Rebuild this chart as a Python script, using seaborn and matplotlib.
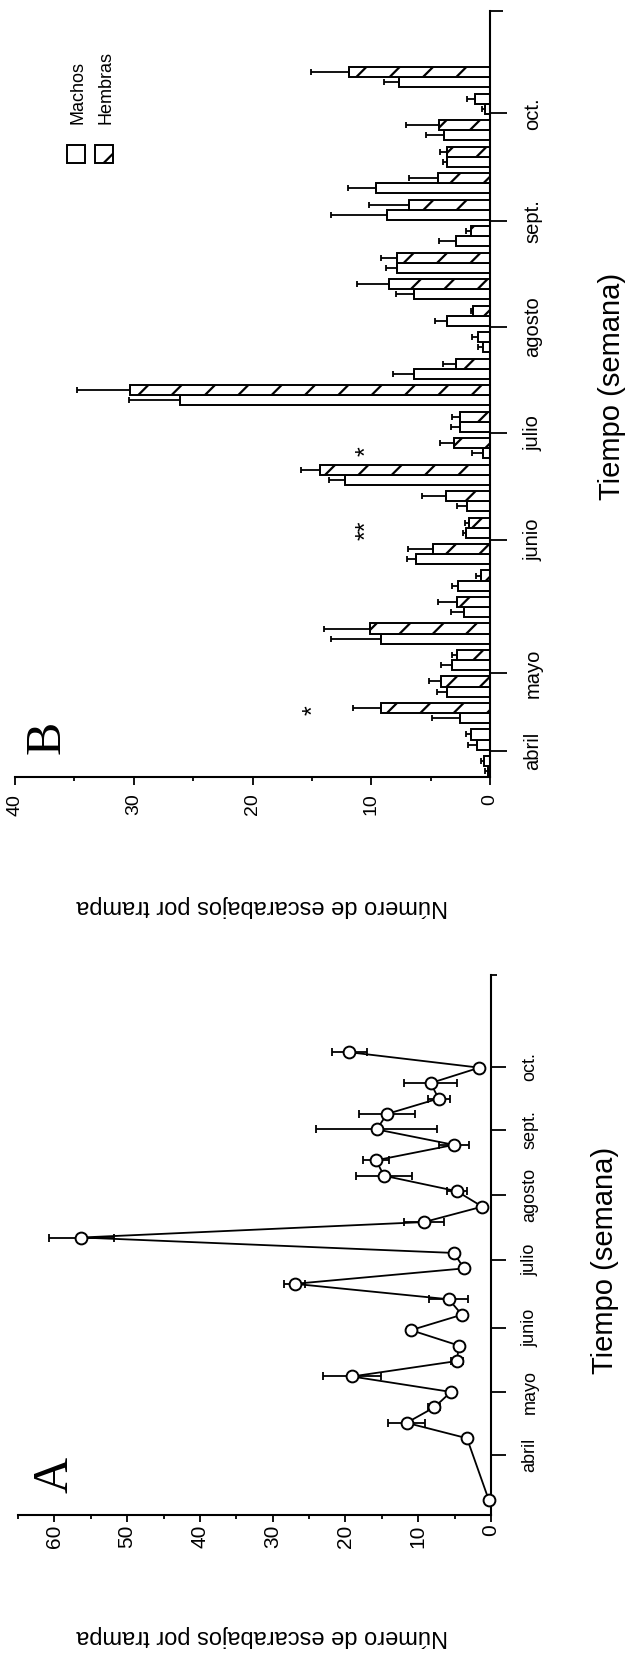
import numpy as np
import pandas as pd
import matplotlib
matplotlib.use("Agg")
import matplotlib.pyplot as plt
from matplotlib.patches import Rectangle
from matplotlib.ticker import FixedLocator
import seaborn as sns

# ---------------- data ----------------
# Panel B: weekly means per trap, males / females (with upper SE)
semanas_B = list(range(27))
machos = [0.2, 1.1, 2.5, 3.6, 3.2, 9.2, 2.2, 2.7, 6.2, 2.0, 1.9, 12.2, 0.6, 2.5,
          26.1, 6.4, 0.6, 3.6, 6.4, 7.8, 2.9, 8.7, 9.6, 3.6, 3.9, 0.4, 7.7]
machos_err = [0.2, 0.75, 2.4, 0.9, 0.9, 4.2, 1.1, 0.5, 0.8, 0.3, 0.85, 1.4, 0.9, 0.8,
              4.3, 1.8, 0.4, 1.0, 1.5, 1.0, 1.4, 4.7, 2.4, 0.4, 1.5, 0.3, 1.2]
hembras = [0.5, 1.6, 9.2, 4.1, 2.8, 10.1, 2.8, 0.8, 4.8, 1.8, 3.7, 14.3, 3.0, 2.5,
           30.3, 2.9, 1.0, 1.4, 8.5, 7.8, 1.6, 6.8, 4.4, 3.6, 4.3, 1.3, 11.9]
hembras_err = [0.3, 0.4, 2.3, 1.0, 0.4, 3.9, 1.6, 0.4, 2.1, 0.3, 2.0, 1.6, 1.2, 0.7,
               4.5, 1.1, 0.5, 0.2, 2.7, 1.4, 0.4, 3.4, 2.4, 0.6, 2.8, 0.6, 3.2]

# Panel A: total beetles per trap (mean +/- SE)
semanas_A = [0, 4, 5, 6, 7, 8, 9, 10, 11, 12, 13, 14, 15, 16, 17, 18, 19, 20,
             21, 22, 23, 24, 25, 26, 27, 28, 29]
total = [0.3, 3.3, 11.6, 7.8, 5.5, 19.1, 4.7, 4.4, 11.0, 4.0, 5.8, 27.0, 3.7, 5.1,
         56.3, 9.2, 1.2, 4.7, 14.7, 15.8, 5.1, 15.7, 14.3, 7.2, 8.3, 1.6, 19.5]
total_err = [0.3, 0.3, 2.5, 0.8, 0.5, 4.0, 0.8, 0.5, 0.5, 0.5, 2.7, 1.5, 0.5, 0.5,
             4.5, 2.7, 0.4, 1.4, 3.9, 1.8, 2.1, 8.3, 3.9, 1.5, 3.6, 0.4, 2.4]

meses = ['abril', 'mayo', 'junio', 'julio', 'agosto', 'sept.', 'oct.']
pos_meses_A = [2.91, 7.0, 11.14, 15.54, 19.75, 23.96, 28.04]
pos_meses_B = [0.57, 3.51, 8.53, 12.57, 16.57, 20.57, 24.64]
ticks_A = [0, 10, 20, 30, 40, 50, 60]
minor_A = [5, 15, 25, 35, 45, 55, 65]
ticks_B = [0, 10, 20, 30, 40]
minor_B = [5, 15, 25, 35]

asteriscos = ['*', '**', '*']
ast_sem = [2.1, 8.9, 11.9]
ast_val = [14.9, 10.4, 10.4]

sexos = ['Machos', 'Hembras']
ylabel_txt = 'Número de escarabajos por trampa'
xlabel_txt = 'Tiempo (semana)'

# ---------------- style ----------------
sns.set_style("ticks", rc={'axes.edgecolor': 'black', 'xtick.color': 'black',
                           'ytick.color': 'black', 'text.color': 'black',
                           'axes.labelcolor': 'black'})
plt.rcParams['font.family'] = ['Liberation Sans', 'DejaVu Sans']
plt.rcParams['hatch.linewidth'] = 1.6
plt.rcParams['hatch.color'] = 'black'

W, H = 628, 1659
fig = plt.figure(figsize=(W / 100, H / 100), dpi=100)
axB = fig.add_axes([15 / W, 1 - 777 / H, 475 / W, 766 / H])
axA = fig.add_axes([18 / W, 1 - 1515 / H, 473 / W, 540 / H])

# ---------------- Panel B ----------------
dfB = pd.DataFrame({'semana': semanas_B * 2,
                    'sexo': [sexos[0]] * len(machos) + [sexos[1]] * len(hembras),
                    'valor': machos + hembras})
sns.barplot(data=dfB, x='valor', y='semana', hue='sexo', hue_order=sexos,
            order=semanas_B, orient='h',
            palette={'Machos': 'white', 'Hembras': 'white'},
            edgecolor='black', linewidth=1.4, width=0.76, errorbar=None,
            legend=False, ax=axB)

vals = {'Machos': machos, 'Hembras': hembras}
errs = {'Machos': machos_err, 'Hembras': hembras_err}
for cont, sexo in zip(axB.containers, sexos):
    ys = [p.get_y() + p.get_height() / 2 for p in cont.patches]
    if sexo == 'Hembras':
        for p in cont.patches:
            p.set_hatch('/')
    axB.errorbar(vals[sexo], ys, xerr=[np.zeros(len(ys)), errs[sexo]], fmt='none',
                 ecolor='black', elinewidth=1.3, capsize=2, capthick=1.3, zorder=3)

for s, k, v in zip(asteriscos, ast_sem, ast_val):
    axB.text(v, k, s, rotation=90, ha='center', va='center', fontsize=18)

# ---------------- Panel A ----------------
dfA = pd.DataFrame({'semana': semanas_A, 'total': total})
axA.errorbar(total, semanas_A, xerr=total_err, fmt='none', ecolor='black',
             elinewidth=1.3, capsize=3, capthick=1.3, zorder=2)
sns.lineplot(data=dfA, x='total', y='semana', sort=False, estimator=None,
             color='black', linewidth=1.3, marker='o', markersize=8.5,
             markerfacecolor='white', markeredgecolor='black',
             markeredgewidth=1.4, ax=axA, zorder=3)
for ln in axA.lines:
    ln.set_clip_on(False)

# ---------------- axes formatting ----------------
def fmt_axis(ax, xlim, ylim, xt, xminor, ypos, ylab_size, xlab_size,
             xlen, xpad, ylen, ypad, top_tick_len, xlabel_xy, ylabel_xy):
    ax.set_xlim(*xlim)
    ax.set_ylim(*ylim)
    for s in ['top', 'left']:
        ax.spines[s].set_visible(False)
    for s in ['right', 'bottom']:
        ax.spines[s].set_visible(True)
        ax.spines[s].set_linewidth(1.5)
    ax.set_xticks(xt)
    ax.set_xticklabels([str(t) for t in xt])
    ax.xaxis.set_minor_locator(FixedLocator(xminor))
    ax.tick_params(axis='x', which='major', direction='out', length=xlen, width=1.3,
                   pad=xpad, labelsize=xlab_size, labelrotation=90)
    ax.tick_params(axis='x', which='minor', direction='out', length=3, width=1.3)
    ax.yaxis.tick_right()
    ax.set_yticks(ypos)
    ax.set_yticklabels(meses)
    ax.yaxis.set_minor_locator(FixedLocator([ylim[1]]))
    ax.tick_params(axis='y', which='major', direction='out', length=ylen, width=1.3,
                   pad=ypad, labelsize=ylab_size, labelrotation=90,
                   left=False, right=True)
    ax.tick_params(axis='y', which='minor', direction='out', length=top_tick_len,
                   width=1.3, left=False, right=True)
    plt.setp(ax.get_yticklabels(), va='center', ha='left')
    ax.set_xlabel(ylabel_txt, rotation=180, fontsize=17)
    ax.xaxis.set_label_coords(*xlabel_xy)
    ax.xaxis.label.set_va('center')
    ax.xaxis.label.set_ha('center')
    ax.yaxis.set_label_position('right')
    ax.set_ylabel(xlabel_txt, rotation=90, fontsize=21)
    ax.yaxis.set_label_coords(*ylabel_xy)
    ax.yaxis.label.set_va('center')
    ax.yaxis.label.set_ha('center')
    ax.grid(False)

fmt_axis(axB, (40, 0), (-0.415, 28.5), ticks_B, minor_B, pos_meses_B,
         14.5, 14, 6, 6, 12, 12, 9, (0.52, -0.168), (1.257, 0.51))
fmt_axis(axA, (65, 0), (-0.97, 34.0), ticks_A, minor_A, pos_meses_A,
         13, 15, 5, 2, 11, 11, 4, (0.516, -0.224), (1.241, 0.472))

# panel letters
axB.text(0.069, 0.052, 'B', transform=axB.transAxes, rotation=90, fontsize=36,
         family='Liberation Serif', ha='center', va='center')
axA.text(0.078, 0.074, 'A', transform=axA.transAxes, rotation=90, fontsize=36,
         family='Liberation Serif', ha='center', va='center')

# legend (rotated, drawn by hand)
leg_x = [0.1095, 0.1684]
leg_hatch = ['', '/']
for xx, hh, name in zip(leg_x, leg_hatch, sexos):
    axB.add_patch(Rectangle((xx, 0.8016), 0.0379, 0.0235, transform=axB.transAxes,
                            facecolor='white', edgecolor='black', linewidth=1.4,
                            hatch=hh, clip_on=False))
    axB.text(xx + 0.0379 / 2 + 0.004, 0.853, name, transform=axB.transAxes,
             rotation=90, ha='center', va='bottom', fontsize=13)

fig.savefig('out.png', dpi=100, facecolor='white')
